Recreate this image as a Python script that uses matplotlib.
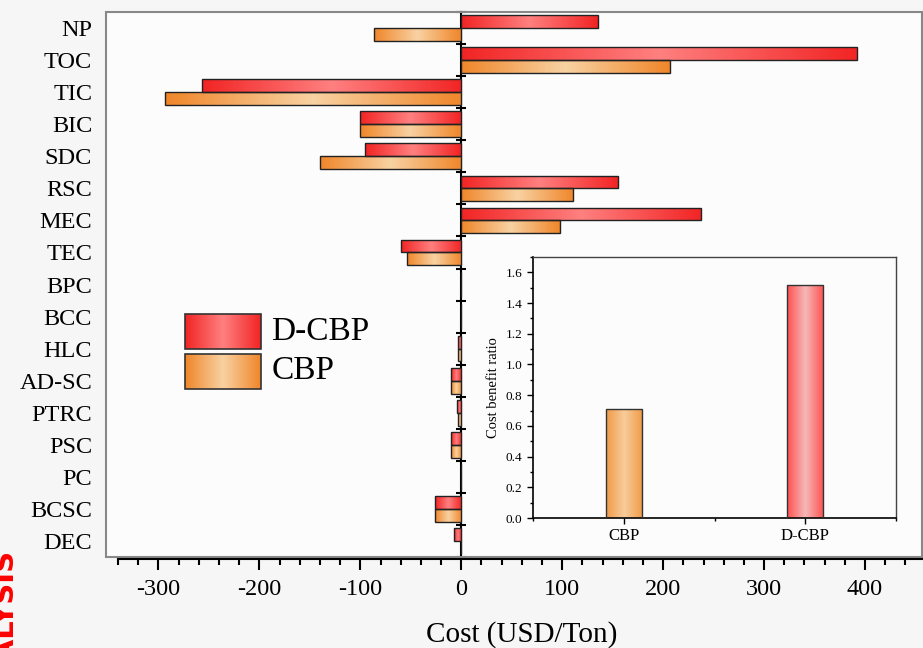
import matplotlib.pyplot as plt
import numpy as np
from matplotlib.colors import LinearSegmentedColormap
from matplotlib.patches import Rectangle
from matplotlib.ticker import MultipleLocator

plt.rcParams['font.family'] = ['Liberation Serif', 'DejaVu Serif']

# data (top to bottom)
categories = ["NP", "TOC", "TIC", "BIC", "SDC", "RSC", "MEC", "TEC", "BPC", "BCC",
              "HLC", "AD-SC", "PTRC", "PSC", "PC", "BCSC", "DEC"]
dcbpCost = [135, 392, -257, -100, -95, 155, 238, -60, 0, 0, -3, -10, -4, -10, 0, -26, -7]
cbpCost = [-86, 207, -294, -100, -140, 111, 98, -54, 0, 0, -3, -10, -3, -10, 0, -26, 0]
xTicks = [-300, -200, -100, 0, 100, 200, 300, 400]

ratioLabels = ["CBP", "D-CBP"]
ratioValues = [0.71, 1.52]

# gradients like the Origin fill
redMap = LinearSegmentedColormap.from_list("redG", ["#f22424", "#ff8080", "#f22424"])
orangeMap = LinearSegmentedColormap.from_list("orangeG", ["#f0862a", "#f8d2a2", "#f0862a"])
inRedMap = LinearSegmentedColormap.from_list("inRed", ["#ff5050", "#f5b8b8", "#ff5050"])
inOrangeMap = LinearSegmentedColormap.from_list("inOrange", ["#f09a45", "#f8cc9c", "#f09a45"])

grad = np.linspace(0, 1, 256).reshape(1, -1)


def gradientBars(ax, bars, cmap):
	for bar in bars:
		x0, y0 = bar.get_x(), bar.get_y()
		w, h = bar.get_width(), bar.get_height()
		if w == 0 or h == 0:
			continue
		xs = sorted([x0, x0 + w])
		ys = sorted([y0, y0 + h])
		im = ax.imshow(grad, extent=[xs[0], xs[1], ys[0], ys[1]], cmap=cmap,
		               aspect='auto', interpolation='bicubic', zorder=2)
		im.set_clip_path(bar)
		bar.set_facecolor('none')
		bar.set_zorder(3)


fig = plt.figure(figsize=(9.23, 6.48), dpi=100, facecolor='#f6f6f6')
ax = fig.add_axes([0.1148, 0.1404, 0.8836, 0.841])
ax.set_facecolor('#fcfcfc')

xMin, xMax = -352, 456
pos = np.arange(len(categories))

redBars = ax.barh(pos - 0.2, dcbpCost, height=0.4, edgecolor='#222222', linewidth=1.0)
orangeBars = ax.barh(pos + 0.2, cbpCost, height=0.4, edgecolor='#222222', linewidth=1.0)
gradientBars(ax, redBars, redMap)
gradientBars(ax, orangeBars, orangeMap)

# legend swatches
ax.imshow(grad, extent=[0.097, 0.190, 0.382, 0.446], transform=ax.transAxes,
          cmap=redMap, aspect='auto', interpolation='bicubic', zorder=4)
ax.imshow(grad, extent=[0.097, 0.190, 0.308, 0.372], transform=ax.transAxes,
          cmap=orangeMap, aspect='auto', interpolation='bicubic', zorder=4)
ax.add_patch(Rectangle((0.097, 0.382), 0.093, 0.064, transform=ax.transAxes, fill=False,
                       edgecolor='#333333', linewidth=1.2, zorder=5))
ax.add_patch(Rectangle((0.097, 0.308), 0.093, 0.064, transform=ax.transAxes, fill=False,
                       edgecolor='#333333', linewidth=1.2, zorder=5))
ax.text(0.203, 0.413, "D-CBP", transform=ax.transAxes, fontsize=24, va='center')
ax.text(0.203, 0.341, "CBP", transform=ax.transAxes, fontsize=24, va='center')

ax.set_xlim(xMin, xMax)
ax.set_ylim(len(categories) - 0.5, -0.5)

ax.set_yticks(pos)
ax.set_yticklabels(categories)
ax.tick_params(axis='y', length=0, pad=10, labelsize=17.5)

ax.set_xticks(xTicks)
ax.set_xticklabels([str(t) for t in xTicks])
ax.xaxis.set_minor_locator(MultipleLocator(20))
ax.tick_params(axis='x', which='major', direction='out', length=8, width=1.5, pad=6, labelsize=17.5)
ax.tick_params(axis='x', which='minor', direction='out', length=4.5, width=1.5)
ax.set_xlabel("Cost (USD/Ton)", fontsize=21)
ax.xaxis.set_label_coords(0.51, -0.117)

for s in ['top', 'right', 'left']:
	ax.spines[s].set_visible(False)
ax.spines['bottom'].set_position(('outward', 1.5))
ax.spines['bottom'].set_bounds(-340, xMax)
ax.spines['bottom'].set_linewidth(1.5)

# grey layer frame
ax.add_patch(Rectangle((0, 0), 1, 1, transform=ax.transAxes, fill=False,
                       edgecolor='#888888', linewidth=1.5, clip_on=False, zorder=1))

# y axis sitting at x = 0
zeroAxis = ax.secondary_yaxis((0 - xMin) / (xMax - xMin))
zeroAxis.set_yticks(np.arange(-0.5, len(categories) + 0.5, 1))
zeroAxis.set_yticklabels([])
zeroAxis.tick_params(direction='inout', length=7, width=1.5)
for s in zeroAxis.spines.values():
	s.set_linewidth(1.5)

# inset: cost benefit ratio
axIn = fig.add_axes([0.5775, 0.2006, 0.3933, 0.4028])
axIn.set_facecolor('#fcfcfc')
inBars = axIn.bar([0, 1], ratioValues, width=0.2, edgecolor='#333333', linewidth=1.0)
gradientBars(axIn, [inBars[0]], inOrangeMap)
gradientBars(axIn, [inBars[1]], inRedMap)
axIn.set_xlim(-0.5, 1.5)
axIn.set_ylim(0, 1.7)
axIn.set_xticks([0, 1])
axIn.set_xticklabels(ratioLabels)
axIn.xaxis.set_minor_locator(MultipleLocator(0.5))
axIn.set_yticks(np.arange(0, 1.61, 0.2))
axIn.set_yticklabels(["%.1f" % v for v in np.arange(0, 1.61, 0.2)])
axIn.yaxis.set_minor_locator(MultipleLocator(0.1))
axIn.tick_params(which='major', direction='out', length=4, width=1)
axIn.tick_params(which='minor', direction='out', length=2, width=1)
axIn.tick_params(axis='x', labelsize=12)
axIn.tick_params(axis='y', labelsize=9.5)
axIn.set_ylabel("Cost benefit ratio", fontsize=10.5)
for s in ['top', 'right']:
	axIn.spines[s].set_color('#444444')
	axIn.spines[s].set_linewidth(1)
for s in ['left', 'bottom']:
	axIn.spines[s].set_linewidth(1.2)

# cropped caption at the left edge
fig.text(0.006, 0.151, "ANALYSIS", rotation=90, color='red', fontweight='bold',
         fontsize=21, family='DejaVu Sans', ha='center', va='top')

plt.savefig("out.png", dpi=100, facecolor=fig.get_facecolor())
